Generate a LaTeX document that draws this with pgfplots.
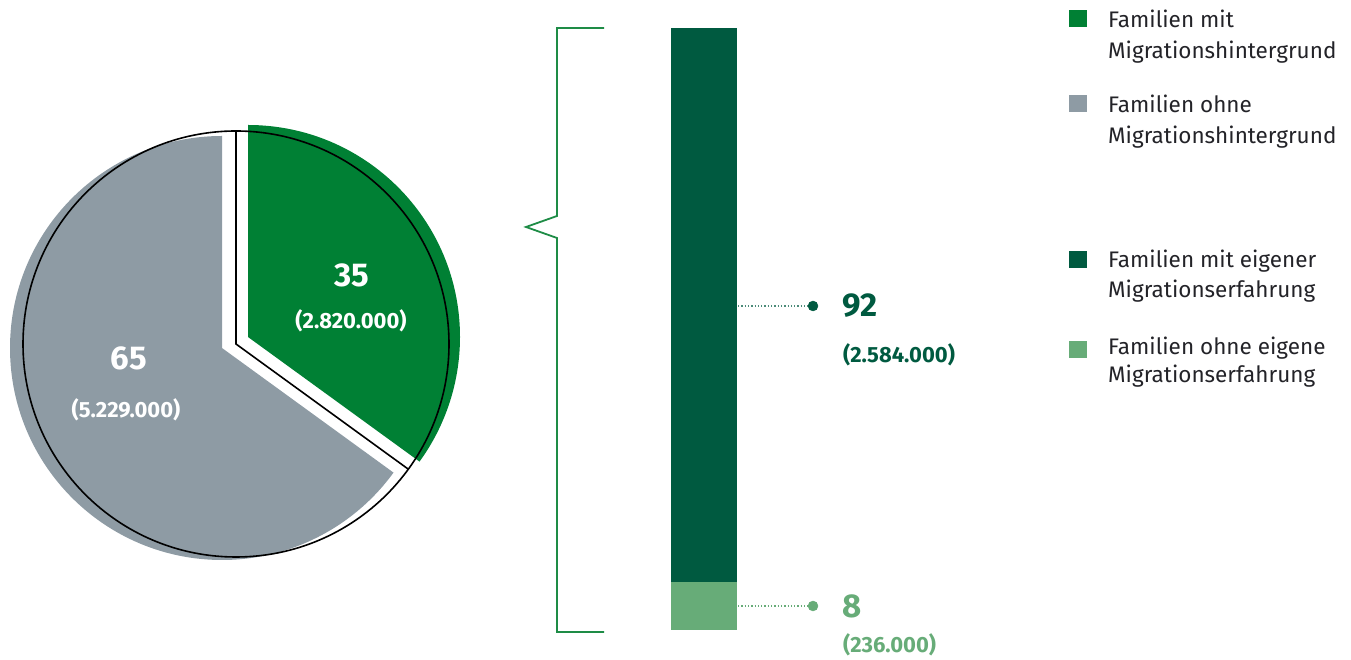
\documentclass[border=0pt]{standalone}
\usepackage{pgfplots}
\pgfplotsset{compat=1.18}
\usepackage{fontspec}
\setmainfont{Fira Sans}
\definecolor{pgreen}{RGB}{0,128,52}
\definecolor{pgray}{RGB}{142,155,164}
\definecolor{dgreen}{RGB}{0,90,64}
\definecolor{lgreen}{RGB}{103,172,120}
\definecolor{bgreen}{RGB}{30,140,70}
\definecolor{ltext}{RGB}{35,35,40}
% data
\def\valMit{35}\def\valOhne{65}
\def\valEigen{92}\def\valNicht{8}
\pgfmathsetmacro{\endang}{90-360*\valMit/100}
\pgfmathsetmacro{\grayend}{360+\endang}
\newcommand{\lfont}{\fontsize{22.5}{26}\selectfont}
\newcommand{\bigf}{\fontsize{33}{33}\selectfont\bfseries}
\newcommand{\smf}{\fontsize{22}{22}\selectfont\bfseries}
\begin{document}
\begin{tikzpicture}
\begin{axis}[width=1351pt,height=660pt,scale only axis,
  xmin=0,xmax=1351,ymin=0,ymax=660,hide axis,clip=false]
\path (axis cs:0,0) rectangle (axis cs:1351,660);
% pie wedges (offset)
\fill[pgray] (axis cs:222,312) -- (axis cs:222,524) arc[start angle=90,end angle=\grayend,radius=212pt] -- cycle;
\fill[pgreen] (axis cs:248,323) -- (axis cs:248,535) arc[start angle=90,end angle=\endang,radius=212pt] -- cycle;
% outline
\draw[black,line width=1.6pt] (axis cs:236,316) circle[radius=213pt];
\draw[black,line width=1.6pt] (axis cs:236,529) -- (axis cs:236,316) -- ++(\endang:213pt);
% pie labels
\node[text=white,font=\bigf] at (axis cs:352,385) {35};
\node[text=white,font=\smf] at (axis cs:351,339) {(2.820.000)};
\node[text=white,font=\bigf] at (axis cs:129,302) {65};
\node[text=white,font=\smf] at (axis cs:126,250) {(5.229.000)};
% bracket
\draw[bgreen,line width=1.8pt] (axis cs:604,632) -- (axis cs:557,632) -- (axis cs:557,444) -- (axis cs:526,433) -- (axis cs:557,422) -- (axis cs:557,28) -- (axis cs:604,28);
% leader lines
\draw[dgreen!70,dotted,line width=1.3pt] (axis cs:738,354) -- (axis cs:810,354);
\draw[lgreen,dotted,line width=1.3pt] (axis cs:738,54) -- (axis cs:810,54);
\addplot[only marks,mark=*,mark size=5pt,color=dgreen] coordinates {(813,354)};
\addplot[only marks,mark=*,mark size=5pt,color=lgreen] coordinates {(813,54)};
\node[anchor=west,inner sep=0,text=dgreen,font=\bigf] at (axis cs:842,354) {92};
\node[anchor=west,inner sep=0,text=dgreen,font=\smf] at (axis cs:843,305) {(2.584.000)};
\node[anchor=west,inner sep=0,text=lgreen,font=\bigf] at (axis cs:842,54) {8};
\node[anchor=west,inner sep=0,text=lgreen,font=\smf] at (axis cs:843,15) {(236.000)};
% legend
\fill[pgreen] (axis cs:1069,650) rectangle (axis cs:1087,633);
\fill[pgray] (axis cs:1069,565) rectangle (axis cs:1087,548);
\fill[dgreen] (axis cs:1069,409) rectangle (axis cs:1087,392);
\fill[lgreen] (axis cs:1069,319) rectangle (axis cs:1087,302);
\node[anchor=base west,inner sep=0,text=ltext,font=\lfont] at (axis cs:1108,632) {Familien mit};
\node[anchor=base west,inner sep=0,text=ltext,font=\lfont] at (axis cs:1108,601) {Migrationshintergrund};
\node[anchor=base west,inner sep=0,text=ltext,font=\lfont] at (axis cs:1108,547) {Familien ohne};
\node[anchor=base west,inner sep=0,text=ltext,font=\lfont] at (axis cs:1108,516) {Migrationshintergrund};
\node[anchor=base west,inner sep=0,text=ltext,font=\lfont] at (axis cs:1108,392) {Familien mit eigener};
\node[anchor=base west,inner sep=0,text=ltext,font=\lfont] at (axis cs:1108,362) {Migrationserfahrung};
\node[anchor=base west,inner sep=0,text=ltext,font=\lfont] at (axis cs:1108,305) {Familien ohne eigene};
\node[anchor=base west,inner sep=0,text=ltext,font=\lfont] at (axis cs:1108,277) {Migrationserfahrung};
\end{axis}
\begin{axis}[at={(671pt,30pt)},anchor=south west,width=66pt,height=602pt,scale only axis,
  xmin=0.5,xmax=1.5,ymin=0,ymax=100,hide axis,ybar stacked,bar width=66pt]
\addplot[fill=lgreen,draw=none] coordinates {(1,\valNicht)};
\addplot[fill=dgreen,draw=none] coordinates {(1,\valEigen)};
\end{axis}
\end{tikzpicture}
\end{document}
